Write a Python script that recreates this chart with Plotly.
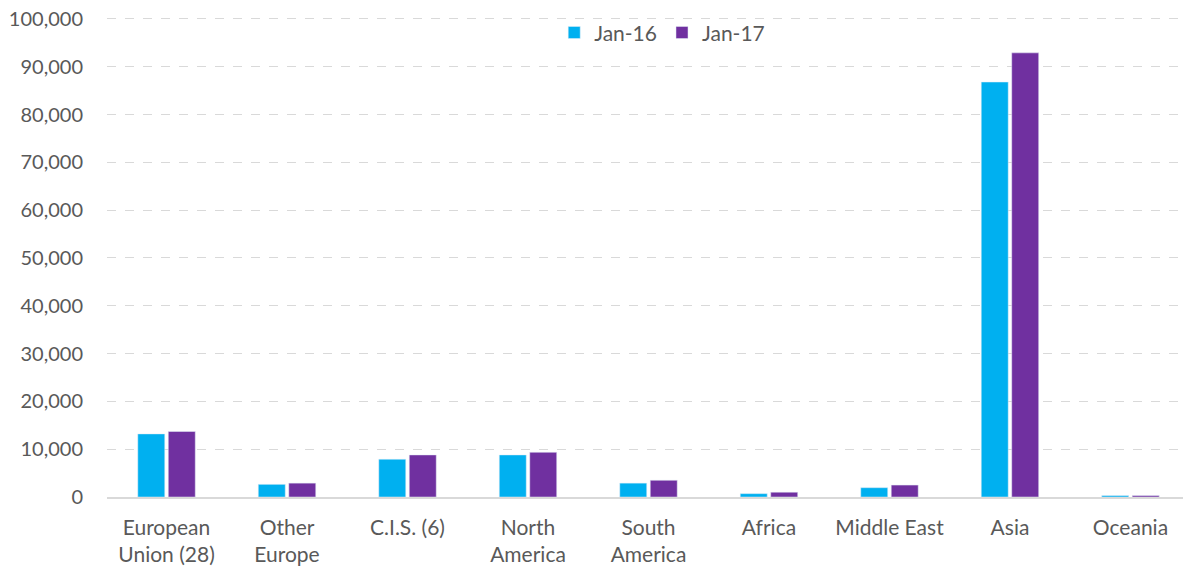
import plotly.graph_objects as go

categories = ["European<br>Union (28)", "Other<br>Europe", "C.I.S. (6)", "North<br>America",
              "South<br>America", "Africa", "Middle East", "Asia", "Oceania"]
jan16 = [13200, 2650, 7900, 8800, 2900, 700, 1950, 86800, 300]
jan17 = [13700, 2900, 8800, 9350, 3500, 1000, 2500, 92900, 300]
y_ticks = [0, 10000, 20000, 30000, 40000, 50000, 60000, 70000, 80000, 90000, 100000]

font_family = "Lato, 'Open Sans', sans-serif"
txt = "#595959"

fig = go.Figure()
fig.add_trace(go.Bar(name="Jan-16", x=categories, y=jan16, marker_color="#00B0F0"))
fig.add_trace(go.Bar(name="Jan-17", x=categories, y=jan17, marker_color="#7030A0"))

fig.update_layout(
    width=1183, height=566,
    margin=dict(l=107, r=0, t=17, b=69, autoexpand=False),
    paper_bgcolor="white", plot_bgcolor="white",
    barmode="group", bargap=0.494, bargroupgap=0.115,
    font=dict(family=font_family, size=20, color=txt),
    legend=dict(orientation="h", x=0.516, xanchor="center", y=0.967, yanchor="middle",
                font=dict(size=21, color=txt), bgcolor="rgba(0,0,0,0)",
                itemwidth=30, tracegroupgap=0),
    xaxis=dict(range=[-0.494, 8.436], showgrid=False, showline=True, linecolor="#D9D9D9",
               linewidth=1.5, ticks="", tickfont=dict(size=21, color=txt), fixedrange=True,
               automargin=False, ticklabelstandoff=11),
    yaxis=dict(range=[0, 100400], tickvals=y_ticks, tickformat=",", showgrid=True,
               gridcolor="#D9D9D9", griddash="dash", gridwidth=1, zeroline=False,
               showline=False, ticks="", ticklabelstandoff=23, automargin=False,
               ticklabeloverflow="allow", fixedrange=True, tickfont=dict(size=20, color=txt)),
    showlegend=True,
)
fig.write_html("out.html", config={"displayModeBar": False},
               post_script="document.body.style.margin='0';")
